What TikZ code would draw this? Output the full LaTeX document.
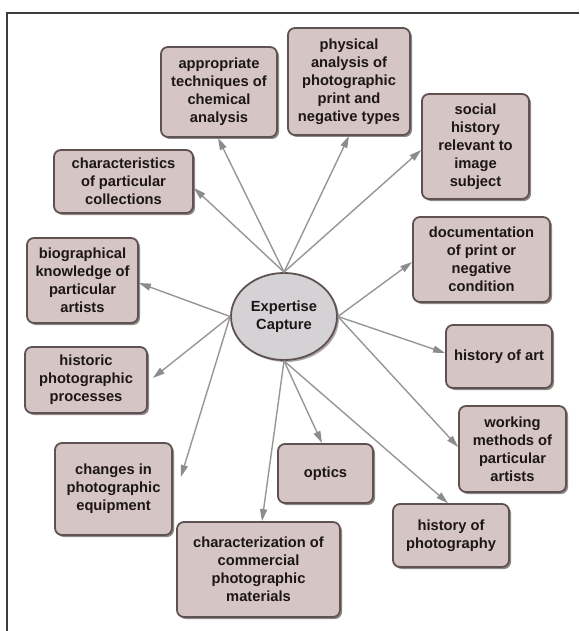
\documentclass[tikz,border=0pt]{standalone}
\usepackage{fontspec}
\setmainfont{Liberation Sans}
\usetikzlibrary{arrows.meta,shadows,shapes.geometric}
\definecolor{boxfill}{RGB}{214,197,197}
\definecolor{boxdraw}{RGB}{95,82,82}
\definecolor{ellfill}{RGB}{212,210,212}
\definecolor{linegray}{RGB}{150,150,150}
\definecolor{tipgray}{RGB}{140,140,140}
\definecolor{txt}{RGB}{28,22,22}
\definecolor{frame}{RGB}{60,60,60}
\tikzset{
  concept/.style={draw=boxdraw, line width=1.8pt, fill=boxfill, rounded corners=7pt,
    align=center, inner sep=2pt, text=txt,
    font=\fontsize{14.7pt}{18pt}\selectfont\bfseries,
    drop shadow={shadow xshift=2pt, shadow yshift=-2pt, fill=boxdraw, opacity=0.7}},
  hub/.style={ellipse, draw=boxdraw, line width=1.8pt, fill=ellfill, align=center,
    inner sep=0pt, text=txt, font=\fontsize{14.7pt}{18pt}\selectfont\bfseries,
    drop shadow={shadow xshift=2pt, shadow yshift=-2pt, fill=boxdraw, opacity=0.5}},
  link/.style={draw=linegray, line width=1.4pt,
    -{Triangle[length=12pt,width=7pt,fill=tipgray,color=tipgray]}}
}
\begin{document}
\begin{tikzpicture}[x=1pt,y=-1pt]
\useasboundingbox (0,0) rectangle (579,631);
\draw[frame, line width=1.4pt] (7,631) -- (7,13) -- (579,13);

\node[hub, minimum width=106pt, minimum height=87pt] (ec) at (284,316.5) {Expertise\\Capture};

\node[concept, minimum width=116pt, minimum height=90pt] (appr) at (219,92) {appropriate\\techniques of\\chemical\\analysis};
\node[concept, minimum width=122pt, minimum height=107pt] (phys) at (349,81.5) {physical\\analysis of\\photographic\\print and\\negative types};
\node[concept, minimum width=107pt, minimum height=105pt] (social) at (475.5,146.5) {social\\history\\relevant to\\image\\subject};
\node[concept, minimum width=139pt, minimum height=63pt] (charac) at (123.5,181.5) {characteristics\\of particular\\collections};
\node[concept, minimum width=137pt, minimum height=85pt] (doc) at (481.5,259.5) {documentation\\of print or\\negative\\condition};
\node[concept, minimum width=111pt, minimum height=85pt] (bio) at (82.5,280.5) {biographical\\knowledge of\\particular\\artists};
\node[concept, minimum width=122pt, minimum height=66pt] (historic) at (86,380) {historic\\photographic\\processes};
\node[concept, minimum width=106pt, minimum height=63pt] (art) at (499,356.5) {history of art};
\node[concept, minimum width=107pt, minimum height=86pt] (working) at (512.5,449) {working\\methods of\\particular\\artists};
\node[concept, minimum width=117pt, minimum height=92pt] (changes) at (113.5,489) {changes in\\photographic\\equipment};
\node[concept, minimum width=95pt, minimum height=59pt] (optics) at (325.5,473.5) {optics};
\node[concept, minimum width=116pt, minimum height=63pt] (histphoto) at (451,535.5) {history of\\photography};
\node[concept, minimum width=163pt, minimum height=95pt] (charz) at (258.5,569.5) {characterization of\\commercial\\photographic\\materials};

\draw[link] (ec.north) -- ([xshift=-1pt]appr.south);
\draw[link] (ec.north) -- ([yshift=-6.5pt]charac.east);
\draw[link] (ec.north) -- (phys.south);
\draw[link] (ec.north) -- ([yshift=-3.5pt]social.west);
\draw[link] (ec.west) -- ([yshift=-2.5pt]bio.east);
\draw[link] (ec.west) -- ([xshift=5pt,yshift=2pt]historic.east);
\draw[link] (ec.west) -- ([xshift=8pt,yshift=12pt]changes.east);
\draw[link] (ec.east) -- ([yshift=-2.5pt]doc.west);
\draw[link] (ec.east) -- ([yshift=3.5pt]art.west);
\draw[link] (ec.east) -- ([yshift=2pt]working.west);
\draw[link] (ec.south) -- ([xshift=-3.5pt]optics.north);
\draw[link] (ec.south) -- ([xshift=-3pt]histphoto.north);
\draw[link] (ec.south) -- ([xshift=3.5pt]charz.north);
\end{tikzpicture}
\end{document}
